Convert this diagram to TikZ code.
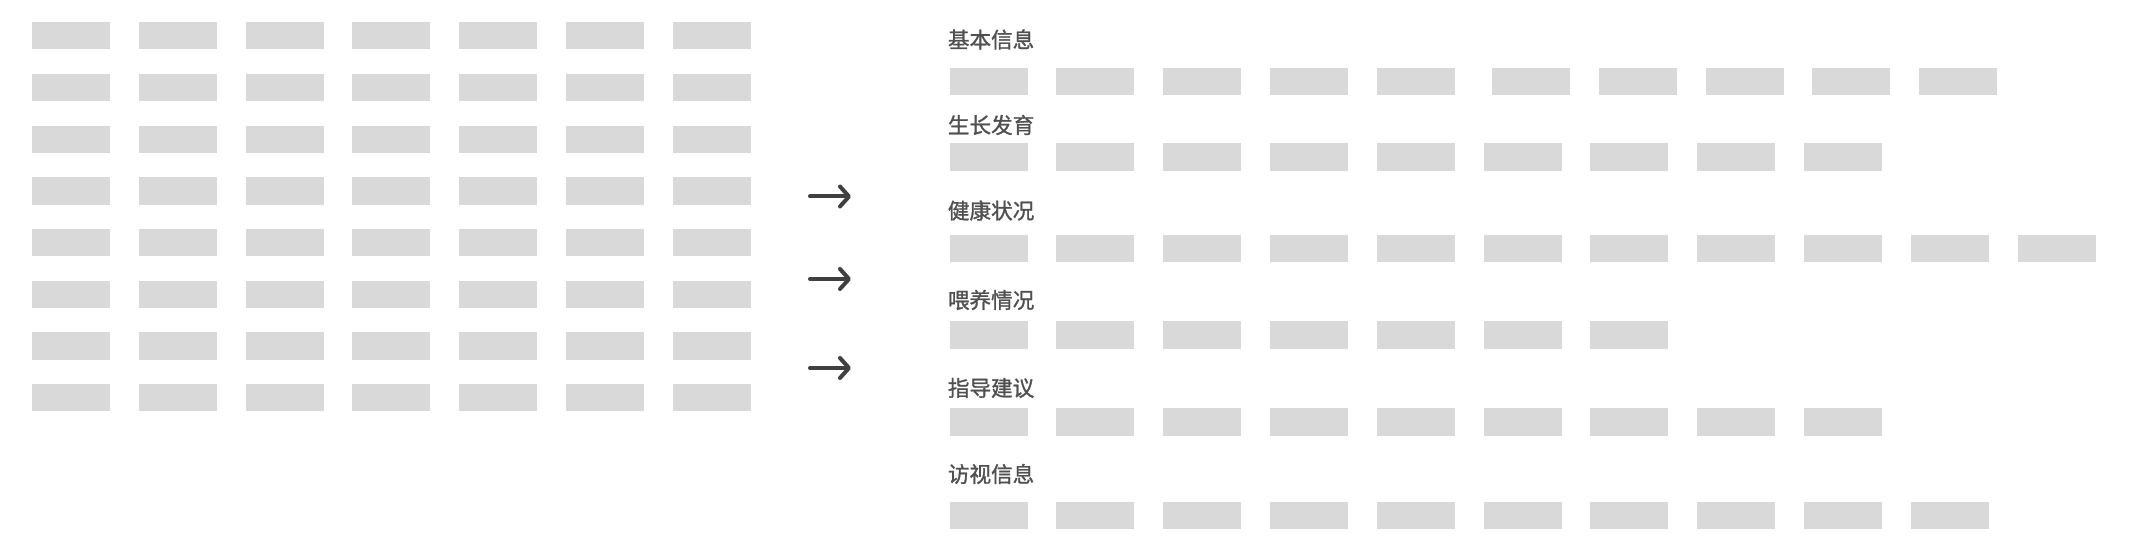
\documentclass[tikz,border=0pt]{standalone}
\usepackage{fontspec}
\newfontfamily\cjk[FakeBold=1.2]{Noto Sans CJK SC}
\usetikzlibrary{arrows.meta}
\definecolor{boxgray}{HTML}{D9D9D9}
\definecolor{txtgray}{HTML}{505050}
\definecolor{arrgray}{HTML}{404040}
\begin{document}
\begin{tikzpicture}[x=0.5pt,y=-0.5pt,
 box/.style={fill=boxgray,draw=none,inner sep=0pt,outer sep=0pt,minimum width=39pt,minimum height=13.6pt,anchor=north west},
 lab/.style={font=\cjk\fontsize{10.8pt}{12pt}\selectfont,text=txtgray,inner sep=0pt,anchor=west},
 flow/.style={draw=arrgray,line width=2pt,line cap=round,-{Straight Barb[length=4.5pt,width=10pt,line cap=round,line join=round]}}]
\useasboundingbox[fill=white] (0,0) rectangle (2144,550);
% left grid of fields
\foreach \r in {0,...,7}{
  \foreach \c in {0,...,6}{
    \node[box] (L-\r-\c) at ({32.3+106.7*\c},{22.3+51.7*\r}) {};
  }
}
% right grouped rows
\foreach \name/\n/\yb/\yl [count=\i] in {基本信息/9/68/39.5, 生长发育/8/143.5/125, 健康状况/10/235/210.5, 喂养情况/6/321.5/300, 指导建议/8/408.5/388, 访视信息/9/502/474}{
  \node[lab] (T-\i) at (947.5,\yl) {\name};
  \foreach \c in {0,...,\n}{
    \pgfmathsetmacro{\off}{(\i==1)*(\c>4)*8.5}
    \node[box] (R-\i-\c) at ({949.5+106.8*\c+\off},\yb) {};
  }
}
% arrows
\coordinate (A1s) at (810,196.5); \coordinate (A1e) at (851,196.5);
\coordinate (A2s) at (810,279);   \coordinate (A2e) at (851,279);
\coordinate (A3s) at (810,368);   \coordinate (A3e) at (851,368);
\draw[flow] (A1s) -- (A1e);
\draw[flow] (A2s) -- (A2e);
\draw[flow] (A3s) -- (A3e);
\end{tikzpicture}
\end{document}
